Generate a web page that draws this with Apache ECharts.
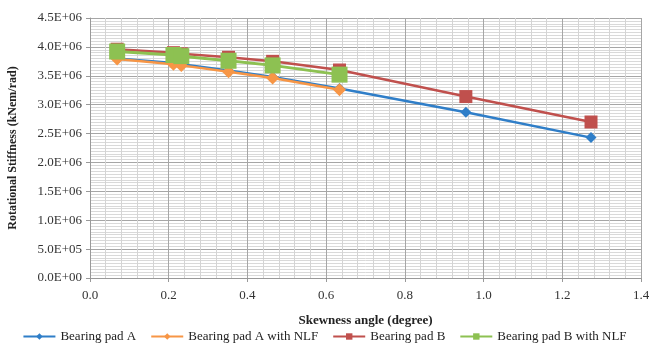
<!DOCTYPE html>
<html>
<head>
<meta charset="utf-8">
<script src="https://cdn.jsdelivr.net/npm/echarts@6/dist/echarts.min.js"></script>
<style>
  html, body { margin: 0; padding: 0; background: #fff; }
  #main { width: 649px; height: 349px; }
</style>
</head>
<body>
<div id="main"></div>
<script>
var chartDom = document.getElementById('main');
var myChart = echarts.init(chartDom);
var option;

// skewness angle (degree)
var angles = [0.069, 0.212, 0.232, 0.352, 0.464, 0.634, 0.955, 1.273];
var padA = [3.80e6, 3.72e6, 3.70e6, 3.59e6, 3.48e6, 3.28e6, 2.87e6, 2.43e6];
var padANLF = [3.79e6, 3.70e6, 3.68e6, 3.57e6, 3.46e6, 3.26e6];
var padB = [3.96e6, 3.90e6, 3.88e6, 3.82e6, 3.75e6, 3.60e6, 3.14e6, 2.70e6];
var padBNLF = [3.92e6, 3.86e6, 3.84e6, 3.76e6, 3.68e6, 3.52e6];
var seriesNames = ['Bearing pad A', 'Bearing pad A with NLF', 'Bearing pad B', 'Bearing pad B with NLF'];

function pairs(vals) {
    var out = [];
    for (var i = 0; i < vals.length; i++) {
        out.push([angles[i], vals[i]]);
    }
    return out;
}

var serif = 'Liberation Serif';

option = {
    animation: false,
    textStyle: {fontFamily: serif},
    grid: {left: 90, right: 8, top: 18, bottom: 71, outerBoundsMode: 'none', containLabel: false},
    legend: {
        bottom: 1,
        left: 'center',
        itemWidth: 32,
        itemHeight: 8,
        itemGap: 14,
        textStyle: {fontFamily: serif, fontSize: 13, color: '#222'},
        data: seriesNames
    },
    xAxis: {
        type: 'value',
        min: 0,
        max: 1.4,
        interval: 0.2,
        name: 'Skewness angle (degree)',
        nameLocation: 'middle',
        nameGap: 36,
        nameTextStyle: {fontFamily: serif, fontWeight: 'bold', fontSize: 13, color: '#222'},
        axisLabel: {
            fontFamily: serif, fontSize: 13, color: '#333', margin: 11,
            formatter: function (v) { return v.toFixed(1); }
        },
        axisLine: {show: true, lineStyle: {color: '#999'}},
        axisTick: {show: true, length: 4, lineStyle: {color: '#999'}},
        splitLine: {show: true, lineStyle: {color: '#a6a6a6', width: 1}},
        minorTick: {show: false, splitNumber: 5},
        minorSplitLine: {show: true, lineStyle: {color: '#d4d4d4', width: 1}}
    },
    yAxis: {
        type: 'value',
        min: 0,
        max: 4.5e6,
        interval: 5e5,
        name: 'Rotational Stiffness (kNem/rad)',
        nameLocation: 'middle',
        nameGap: 71,
        nameTextStyle: {fontFamily: serif, fontWeight: 'bold', fontSize: 12, color: '#222'},
        axisLabel: {
            fontFamily: serif, fontSize: 13, color: '#333', margin: 8,
            formatter: function (v) {
                var e = v === 0 ? 0 : Math.floor(Math.log10(v) + 1e-9);
                var m = v / Math.pow(10, e);
                var es = (e < 10 ? '0' : '') + e;
                return m.toFixed(1) + 'E+' + es;
            }
        },
        axisLine: {show: true, lineStyle: {color: '#999'}},
        axisTick: {show: true, length: 4, lineStyle: {color: '#999'}},
        splitLine: {show: true, lineStyle: {color: '#a6a6a6', width: 1}},
        minorTick: {show: false, splitNumber: 10},
        minorSplitLine: {show: true, lineStyle: {color: '#d9d9d9', width: 1}}
    },
    series: [
        {
            name: seriesNames[0],
            type: 'line',
            data: pairs(padA),
            symbol: 'diamond',
            symbolSize: 11,
            color: '#2f7ec8',
            lineStyle: {width: 2.5},
            z: 2
        },
        {
            name: seriesNames[1],
            type: 'line',
            data: pairs(padANLF),
            symbol: 'diamond',
            symbolSize: 13,
            color: '#f79646',
            lineStyle: {width: 2.5},
            z: 3
        },
        {
            name: seriesNames[2],
            type: 'line',
            data: pairs(padB),
            symbol: 'rect',
            symbolSize: 13,
            color: '#c0504d',
            lineStyle: {width: 2.5},
            z: 4
        },
        {
            name: seriesNames[3],
            type: 'line',
            data: pairs(padBNLF),
            symbol: 'rect',
            symbolSize: 16,
            color: '#8dc152',
            lineStyle: {width: 3},
            z: 5
        }
    ]
};

option && myChart.setOption(option);
</script>
</body>
</html>
